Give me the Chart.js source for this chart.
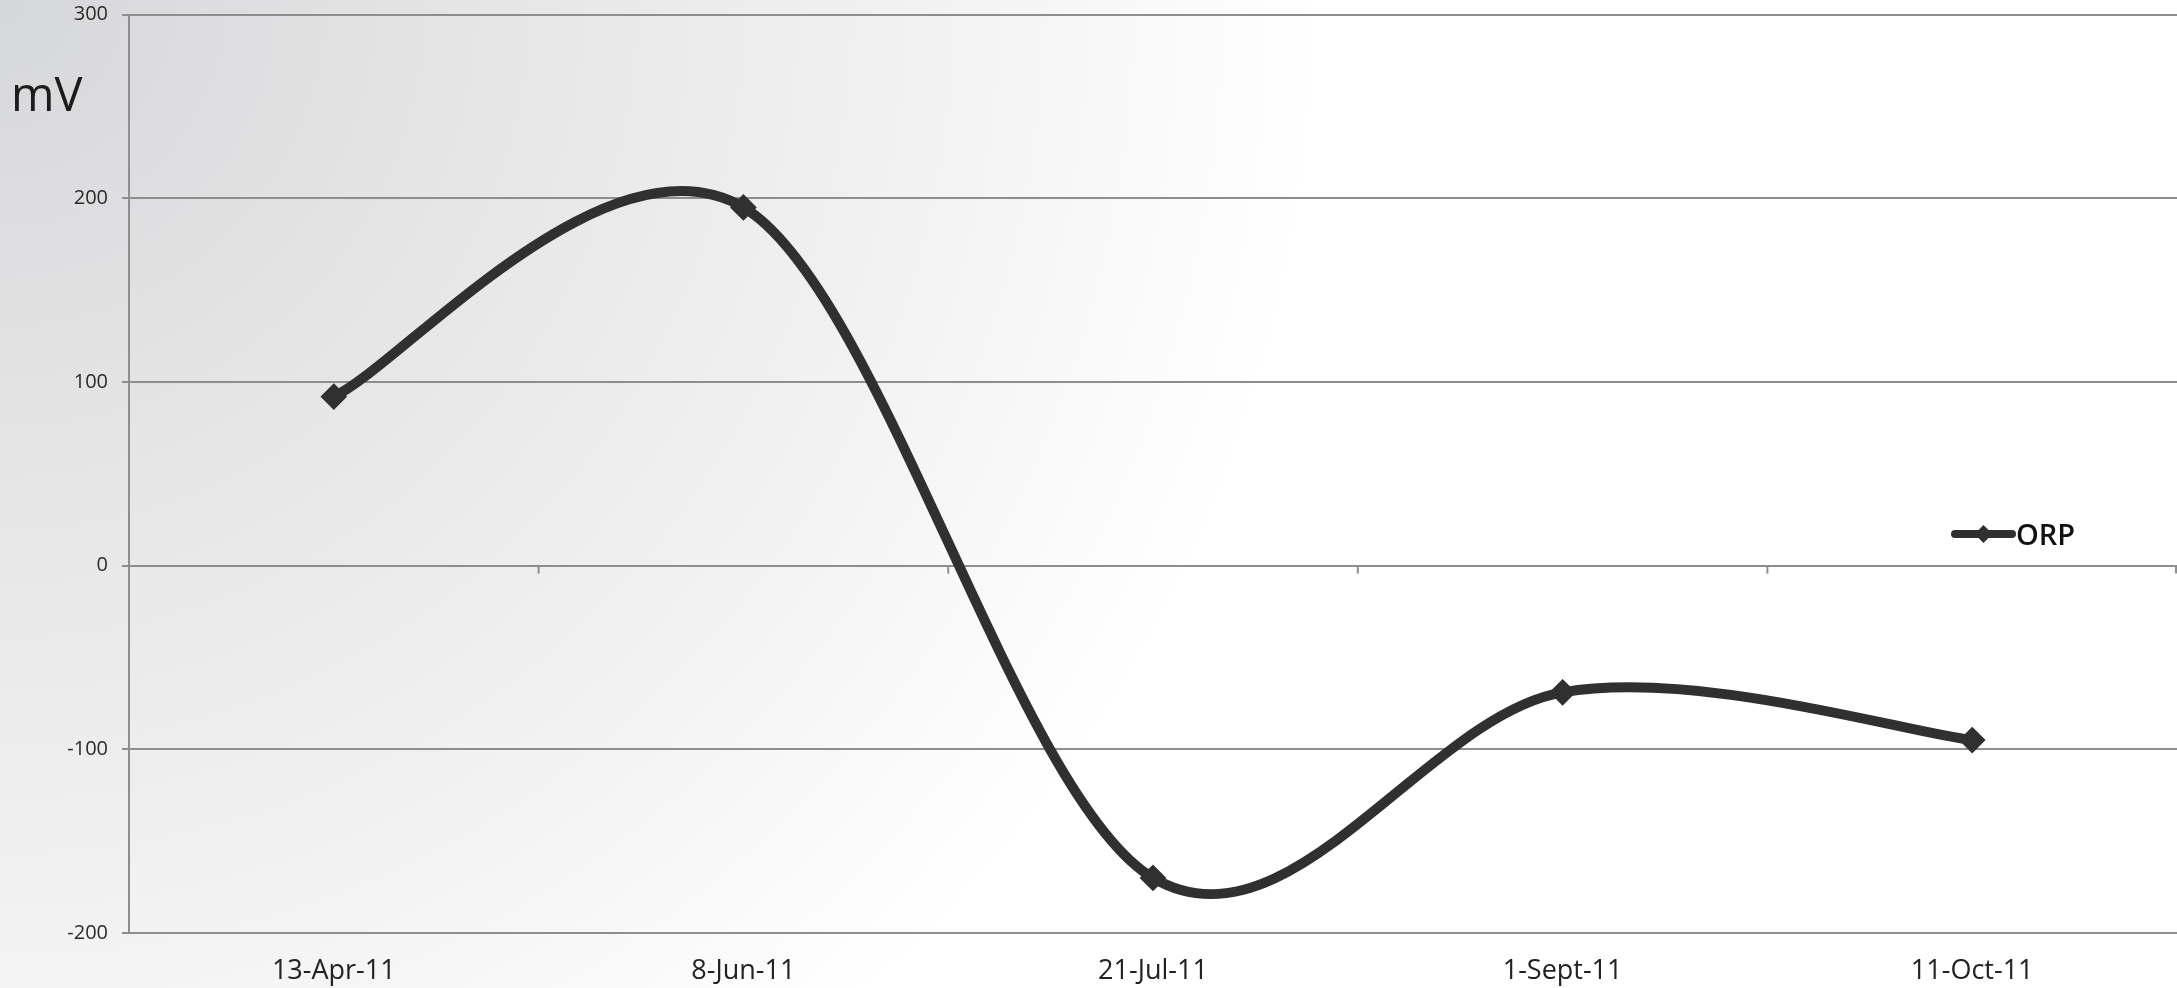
<!DOCTYPE html>
<html>
<head>
<meta charset="utf-8">
<title>ORP</title>
<script src="https://cdn.jsdelivr.net/npm/chart.js@4/dist/chart.umd.min.js"></script>
<style>
  html, body { margin: 0; padding: 0; background: #ffffff; overflow: hidden; }
  #wrap { width: 2177px; height: 988px; }
  canvas { display: block; }
</style>
</head>
<body>
<div id="wrap"><canvas id="c" width="2177" height="988"></canvas></div>
<script>
// Sampling dates and ORP readings (mV)
const categories = ['13-Apr-11', '8-Jun-11', '21-Jul-11', '1-Sept-11', '11-Oct-11'];
const orpValues = [92, 195, -170, -69, -95];
const seriesName = 'ORP';
const unitLabel = 'mV';
const yTicks = [-200, -100, 0, 100, 200, 300];

const FONT = "'Open Sans', 'DejaVu Sans', sans-serif";
const GRID = '#8e8e8e';
const INK = '#303030';

// Soft grey-to-white backdrop spreading from the top-left corner
const backdrop = {
  id: 'backdrop',
  beforeDraw(chart) {
    const { ctx, width, height } = chart;
    const g = ctx.createRadialGradient(0, 0, 0, 0, 0, 1550);
    g.addColorStop(0, '#d6d7d9');
    g.addColorStop(0.3, '#e5e5e6');
    g.addColorStop(0.6, '#f2f2f2');
    g.addColorStop(0.85, '#ffffff');
    g.addColorStop(1, '#ffffff');
    ctx.save();
    ctx.fillStyle = g;
    ctx.fillRect(0, 0, width, height);
    ctx.restore();
  }
};

// Smoothed line in the spreadsheet style: Catmull-Rom tangents
const smoothLine = {
  id: 'smoothLine',
  beforeDatasetsDraw(chart) {
    chart.data.datasets.forEach((ds, i) => {
      const meta = chart.getDatasetMeta(i);
      const line = meta.dataset;
      if (!line) return;
      line.updateControlPoints(chart.chartArea, 'x');
      const pts = meta.data;
      for (let k = 0; k < pts.length; k++) {
        const p = pts[k];
        const prev = pts[k - 1] || p;
        const next = pts[k + 1] || p;
        const dx = (next.x - prev.x) / 6;
        const dy = (next.y - prev.y) / 6;
        p.cp1x = p.x - dx; p.cp1y = p.y - dy;
        p.cp2x = p.x + dx; p.cp2y = p.y + dy;
      }
      line._path = undefined;
    });
  }
};

// Category tick marks on the zero line, unit label and legend
const extras = {
  id: 'extras',
  beforeDatasetsDraw(chart) {
    const { ctx } = chart;
    const xs = chart.scales.x;
    const ys = chart.scales.y;
    const y0 = ys.getPixelForValue(0);
    const n = categories.length;
    ctx.save();
    ctx.strokeStyle = GRID;
    ctx.lineWidth = 2;
    for (let i = 1; i <= n; i++) {
      const bx = i < n ? (xs.getPixelForValue(i - 1) + xs.getPixelForValue(i)) / 2 : xs.right - 1;
      ctx.beginPath();
      ctx.moveTo(bx, y0);
      ctx.lineTo(bx, y0 + 8);
      ctx.stroke();
    }
    ctx.restore();
  },
  afterDraw(chart) {
    const { ctx } = chart;
    ctx.save();
    // unit label
    ctx.fillStyle = '#1c1c1c';
    ctx.font = `47px ${FONT}`;
    ctx.textAlign = 'left';
    ctx.textBaseline = 'alphabetic';
    ctx.fillText(unitLabel, 11, 111);

    // legend
    const lx0 = 1955, lx1 = 2012, ly = 534;
    ctx.strokeStyle = INK;
    ctx.lineWidth = 8;
    ctx.lineCap = 'round';
    ctx.beginPath();
    ctx.moveTo(lx0, ly);
    ctx.lineTo(lx1, ly);
    ctx.stroke();
    const cx = (lx0 + lx1) / 2, r = 9;
    ctx.fillStyle = INK;
    ctx.beginPath();
    ctx.moveTo(cx - r, ly);
    ctx.lineTo(cx, ly - r);
    ctx.lineTo(cx + r, ly);
    ctx.lineTo(cx, ly + r);
    ctx.closePath();
    ctx.fill();
    ctx.fillStyle = '#111111';
    ctx.font = `600 29px ${FONT}`;
    ctx.textBaseline = 'middle';
    ctx.fillText(seriesName, 2016, 537);
    ctx.restore();
  }
};

new Chart(document.getElementById('c'), {
  type: 'line',
  data: {
    labels: categories,
    datasets: [{
      label: seriesName,
      data: orpValues,
      borderColor: INK,
      borderWidth: 10,
      backgroundColor: INK,
      fill: false,
      tension: 0.4,
      pointStyle: 'rectRot',
      pointRadius: 12,
      pointBorderWidth: 2,
      pointBackgroundColor: INK,
      pointBorderColor: INK,
      clip: false
    }]
  },
  options: {
    responsive: false,
    animation: false,
    events: [],
    layout: { autoPadding: false, padding: { top: 14, right: 0, left: 0, bottom: 0 } },
    plugins: {
      legend: { display: false },
      tooltip: { enabled: false },
      title: { display: false }
    },
    scales: {
      x: {
        type: 'category',
        offset: true,
        grid: { display: false, drawTicks: false },
        border: { display: false },
        ticks: {
          color: '#222222',
          font: { family: FONT, size: 27 },
          padding: 22,
          maxRotation: 0,
          autoSkip: false
        },
        afterFit(scale) { scale.height = 55; }
      },
      y: {
        min: -200,
        max: 300,
        afterBuildTicks(scale) { scale.ticks = yTicks.map(v => ({ value: v })); },
        grid: { color: GRID, lineWidth: 2, tickLength: 7, drawTicks: true },
        border: { display: true, color: GRID, width: 2 },
        ticks: {
          color: '#2a2a2a',
          font: { family: FONT, size: 20, lineHeight: 0.05 },
          padding: 14
        },
        afterFit(scale) { scale.width = 129; }
      }
    }
  },
  plugins: [backdrop, smoothLine, extras]
});
</script>
</body>
</html>
